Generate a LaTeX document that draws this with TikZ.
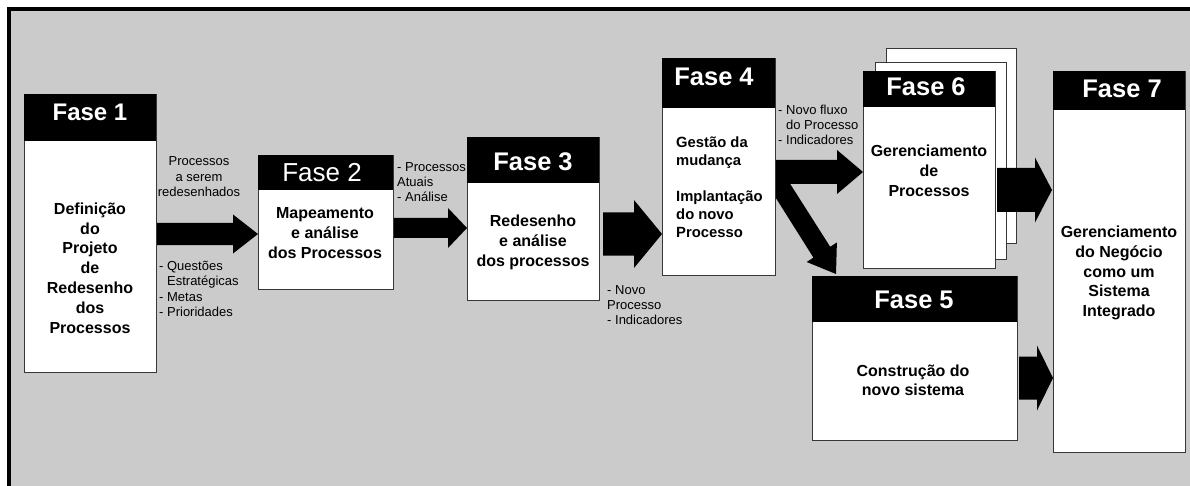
\documentclass[tikz,border=0pt]{standalone}
\usepackage{fontspec}
\setmainfont{Liberation Sans}
\usetikzlibrary{calc}
\definecolor{bg}{RGB}{203,203,203}
\definecolor{edge}{RGB}{55,55,55}
\tikzset{
  box/.style={draw=edge, line width=1.2pt, fill=white, inner sep=0pt, anchor=north west},
  head/.style={fill=black, inner sep=0pt, anchor=north west},
  htext/.style={text=white, font=\fontsize{25.5}{30}\selectfont\bfseries, inner sep=0pt},
  btext/.style={font=\fontsize{16}{19.8}\selectfont\bfseries, align=center, inner sep=0pt},
  ltext/.style={font=\fontsize{13}{15.3}\selectfont, align=left, inner sep=0pt, anchor=west},
  arr/.style={fill=black}
}
\newcommand{\blockarr}[5]{%
  \fill[arr] let \p1=(#1), \p2=(#2) in
    (\x1,\y1+#3) -- (\x2-#5,\y1+#3) -- (\x2-#5,\y1+#4) -- (\x2,\y1)
    -- (\x2-#5,\y1-#4) -- (\x2-#5,\y1-#3) -- (\x1,\y1-#3) -- cycle;}
\begin{document}
\begin{tikzpicture}[x=1pt,y=-1pt]
\useasboundingbox (0,0) rectangle (1190,486);
% background frame
\fill[bg] (7,7) rectangle (1190,486);
\draw[line width=3.6pt] (8.8,486) -- (8.8,8.8) -- (1190,8.8);

% Fase 1
\node[box, minimum width=132pt, minimum height=278pt] (f1) at (24,94) {};
\node[head, minimum width=132pt, minimum height=47pt] (h1) at (24,94) {};
\node[htext, font=\fontsize{24}{28}\selectfont\bfseries] (t1) at (90,112) {Fase 1};
\node[btext] (b1) at (90,268) {Definição\\do\\Projeto\\de\\Redesenho\\dos\\Processos};

% Fase 2
\node[box, minimum width=135pt, minimum height=134pt] (f2) at (258,155) {};
\node[head, minimum width=135pt, minimum height=35pt] (h2) at (258,155) {};
\node[htext, font=\fontsize{26}{30}\selectfont] (t2) at (322,173) {Fase 2};
\node[btext, font=\fontsize{16}{20}\selectfont\bfseries] (b2) at (325,233) {Mapeamento\\e análise\\dos Processos};

% Fase 3
\node[box, minimum width=132pt, minimum height=163pt] (f3) at (467,137) {};
\node[head, minimum width=132pt, minimum height=46pt] (h3) at (467,137) {};
\node[htext] (t3) at (533,162) {Fase 3};
\node[btext, font=\fontsize{16}{20}\selectfont\bfseries] (b3) at (533,242) {Redesenho\\e análise\\dos processos};

% Fase 4
\node[box, minimum width=113pt, minimum height=217pt] (f4) at (662,58) {};
\node[head, minimum width=113pt, minimum height=50pt] (h4) at (662,58) {};
\node[htext] (t4) at (714,77) {Fase 4};
\node[btext, font=\fontsize{14.8}{18}\selectfont\bfseries, align=left, anchor=west] (b4) at (676,187)
  {Gestão da\\mudança\\[18pt]Implantação\\do novo\\Processo};

% Fase 6 (stacked sheets)
\node[box, minimum width=130pt, minimum height=195pt] (s6b) at (886,48) {};
\node[box, minimum width=131pt, minimum height=197pt] (s6m) at (875,62) {};
\node[box, minimum width=132pt, minimum height=197pt] (f6) at (863,71) {};
\node[head, minimum width=132pt, minimum height=36pt] (h6) at (863,71) {};
\node[htext] (t6) at (926,87) {Fase 6};
\node[btext, font=\fontsize{16}{20}\selectfont\bfseries] (b6) at (929,171) {Gerenciamento\\de\\Processos};

% Fase 5
\node[box, minimum width=205pt, minimum height=164pt] (f5) at (812,276) {};
\node[head, minimum width=205pt, minimum height=46pt] (h5) at (812,276) {};
\node[htext] (t5) at (914,300) {Fase 5};
\node[btext, font=\fontsize{16}{19}\selectfont\bfseries] (b5) at (913,380.5) {Construção do\\novo sistema};

% Fase 7
\node[box, minimum width=132pt, minimum height=381pt] (f7) at (1053,71) {};
\node[head, minimum width=132pt, minimum height=39pt] (h7) at (1053,71) {};
\node[htext] (t7) at (1122,89) {Fase 7};
\node[btext, font=\fontsize{16}{19.8}\selectfont\bfseries] (b7) at (1119,273) {Gerenciamento\\do Negócio\\como um\\Sistema\\Integrado};

% arrows
\coordinate (a1s) at (f1.east |- 0,234);   \coordinate (a1t) at (f2.west |- 0,234);
\blockarr{a1s}{a1t}{11pt}{19.5pt}{25pt}
\coordinate (a2s) at (f2.east |- 0,228);   \coordinate (a2t) at (f3.west |- 0,228);
\blockarr{a2s}{a2t}{10pt}{20pt}{19pt}
\coordinate (a3s) at ([xshift=3pt]f3.east |- 0,234); \coordinate (a3t) at (f4.west |- 0,234);
\blockarr{a3s}{a3t}{21.5pt}{34pt}{28pt}
\coordinate (a4s) at (f4.east |- 0,172);   \coordinate (a4t) at (f6.west |- 0,172);
\blockarr{a4s}{a4t}{12pt}{22pt}{26pt}
\coordinate (a6s) at ([xshift=1pt]f6.east |- 0,190); \coordinate (a6t) at ([xshift=-1pt]f7.west |- 0,190);
\blockarr{a6s}{a6t}{22pt}{32.5pt}{17pt}
\coordinate (a5s) at ([xshift=1pt]f5.east |- 0,378); \coordinate (a5t) at (f7.west |- 0,378);
\blockarr{a5s}{a5t}{21.5pt}{32.5pt}{16pt}
% diagonal arrow Fase 4 -> Fase 5
\coordinate (d1) at (f4.east |- 0,162);
\coordinate (d2) at (f4.east |- 0,198.5);
\coordinate (dt) at (836,274);
\fill[arr] (d1) -- (830.2,246.8) -- (836.9,242.4) -- (dt) -- (806.7,262) -- (813.4,257.6) -- (d2) -- cycle;

% labels
\node[font=\fontsize{13}{15.5}\selectfont, align=center, inner sep=0pt] (l1) at (199,177) {Processos\\a serem\\redesenhados};
\node[ltext] (l2) at (159,289) {- Questões\\\hphantom{- }Estratégicas\\- Metas\\- Prioridades};
\node[ltext] (l3) at (397,182) {- Processos\\Atuais\\- Análise};
\node[ltext] (l4) at (607,305) {- Novo\\Processo\\- Indicadores};
\node[ltext] (l5) at (778,125) {- Novo fluxo\\\hphantom{- }do Processo\\- Indicadores};
\end{tikzpicture}
\end{document}
